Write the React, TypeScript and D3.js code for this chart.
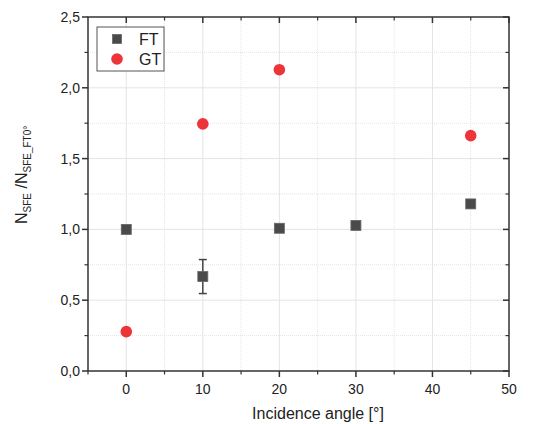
import React from "react";
import * as d3 from "d3";

const ftAngles = [0, 10, 20, 30, 45];
const ftValues = [1.0, 0.667, 1.008, 1.028, 1.18];
const ftErrors = [0, 0.12, 0, 0, 0];
const gtAngles = [0, 10, 20, 45];
const gtValues = [0.278, 1.745, 2.128, 1.662];
const xTicks = [0, 10, 20, 30, 40, 50];
const yTicks = [0, 0.5, 1.0, 1.5, 2.0, 2.5];
const xMinor = [-5, 5, 15, 25, 35, 45];
const yMinor = [0.25, 0.75, 1.25, 1.75, 2.25];
const seriesNames = ["FT", "GT"];

const W = 544, H = 424;
const left = 88, right = 509, top = 17, bottom = 371;
const font = "Arial, 'Liberation Sans', sans-serif";
const axisColor = "#333";
const sqColor = "#4a4a4a";
const redColor = "#ec3439";

export default function App() {
  const x = d3.scaleLinear().domain([-5, 50]).range([left, right]);
  const y = d3.scaleLinear().domain([0, 2.5]).range([bottom, top]);
  const fmt = (v: number) => v.toFixed(1).replace(".", ",");
  const sq = 10;
  return (
    <svg width={W} height={H} style={{ position: "absolute", left: 0, top: 0, background: "#fff" }}>
      <rect x={0} y={0} width={W} height={H} fill="#fff" />
      {/* grid */}
      {xTicks.filter(t => t > -5 && t < 50).map(t => (
        <line key={"gx" + t} x1={x(t)} x2={x(t)} y1={top} y2={bottom} stroke="#e4e4e4" strokeWidth={1} />
      ))}
      {xMinor.filter(t => t > -5 && t < 50).map(t => (
        <line key={"gxm" + t} x1={x(t)} x2={x(t)} y1={top} y2={bottom} stroke="#e4e4e4" strokeWidth={1} strokeDasharray="1,1" />
      ))}
      {yTicks.filter(t => t > 0 && t < 2.5).map(t => (
        <line key={"gy" + t} x1={left} x2={right} y1={y(t)} y2={y(t)} stroke="#e4e4e4" strokeWidth={1} />
      ))}
      {yMinor.map(t => (
        <line key={"gym" + t} x1={left} x2={right} y1={y(t)} y2={y(t)} stroke="#e4e4e4" strokeWidth={1} strokeDasharray="1,1" />
      ))}
      {/* frame */}
      <rect x={left} y={top} width={right - left} height={bottom - top} fill="none" stroke={axisColor} strokeWidth={1.5} />
      {/* x ticks */}
      {xTicks.map(t => (
        <g key={"xt" + t}>
          <line x1={x(t)} x2={x(t)} y1={bottom} y2={bottom + 6} stroke={axisColor} strokeWidth={1.5} />
          <line x1={x(t)} x2={x(t)} y1={top} y2={top + 6} stroke={axisColor} strokeWidth={1.5} />
          <text x={x(t)} y={bottom + 23} textAnchor="middle" fontFamily={font} fontSize={14} fill="#222">{t}</text>
        </g>
      ))}
      {xMinor.filter(t => t > -5).map(t => (
        <g key={"xm" + t}>
          <line x1={x(t)} x2={x(t)} y1={bottom} y2={bottom + 3.5} stroke={axisColor} strokeWidth={1.2} />
          <line x1={x(t)} x2={x(t)} y1={top} y2={top + 3.5} stroke={axisColor} strokeWidth={1.2} />
        </g>
      ))}
      <line x1={left} x2={left} y1={bottom} y2={bottom + 3.5} stroke={axisColor} strokeWidth={1.2} />
      {/* y ticks */}
      {yTicks.map(t => (
        <g key={"yt" + t}>
          <line x1={left - 6} x2={left} y1={y(t)} y2={y(t)} stroke={axisColor} strokeWidth={1.5} />
          <line x1={right - 6} x2={right} y1={y(t)} y2={y(t)} stroke={axisColor} strokeWidth={1.5} />
          <text x={left - 8} y={y(t) + 5} textAnchor="end" fontFamily={font} fontSize={14} fill="#222">{fmt(t)}</text>
        </g>
      ))}
      {yMinor.map(t => (
        <g key={"ym" + t}>
          <line x1={left - 3.5} x2={left} y1={y(t)} y2={y(t)} stroke={axisColor} strokeWidth={1.2} />
          <line x1={right - 3.5} x2={right} y1={y(t)} y2={y(t)} stroke={axisColor} strokeWidth={1.2} />
        </g>
      ))}
      {/* error bars */}
      {ftAngles.map((a, i) => ftErrors[i] > 0 ? (
        <g key={"err" + i} stroke="#444" strokeWidth={1.5}>
          <line x1={x(a)} x2={x(a)} y1={y(ftValues[i] - ftErrors[i])} y2={y(ftValues[i] + ftErrors[i])} />
          <line x1={x(a) - 4} x2={x(a) + 4} y1={y(ftValues[i] - ftErrors[i])} y2={y(ftValues[i] - ftErrors[i])} />
          <line x1={x(a) - 4} x2={x(a) + 4} y1={y(ftValues[i] + ftErrors[i])} y2={y(ftValues[i] + ftErrors[i])} />
        </g>
      ) : null)}
      {/* FT squares */}
      {ftAngles.map((a, i) => (
        <rect key={"ft" + i} x={x(a) - sq / 2} y={y(ftValues[i]) - sq / 2} width={sq} height={sq} fill={sqColor} stroke="#666" strokeWidth={0.8} />
      ))}
      {/* GT circles */}
      {gtAngles.map((a, i) => (
        <circle key={"gt" + i} cx={x(a)} cy={y(gtValues[i])} r={5.8} fill={redColor} />
      ))}
      {/* legend */}
      <rect x={97} y={27} width={67} height={44} fill="#fff" stroke="#555" strokeWidth={1} />
      <rect x={117 - 4.5} y={39 - 4.5} width={9} height={9} fill={sqColor} stroke="#666" strokeWidth={0.8} />
      <text x={139} y={45} fontFamily={font} fontSize={16} fill="#222">{seriesNames[0]}</text>
      <circle cx={117} cy={59} r={5.8} fill={redColor} />
      <text x={139} y={65} fontFamily={font} fontSize={16} fill="#222">{seriesNames[1]}</text>
      {/* axis titles */}
      <text x={318} y={419} textAnchor="middle" fontFamily={font} fontSize={16} fill="#222">Incidence angle [°]</text>
      <text transform="translate(27,224) rotate(-90)" fontFamily={font} fontSize={16} fill="#222">
        N<tspan fontSize={10} dy={4}>SFE</tspan><tspan dy={-4}> /N</tspan><tspan fontSize={10} dy={4}>SFE_FT0°</tspan>
      </text>
    </svg>
  );
}
